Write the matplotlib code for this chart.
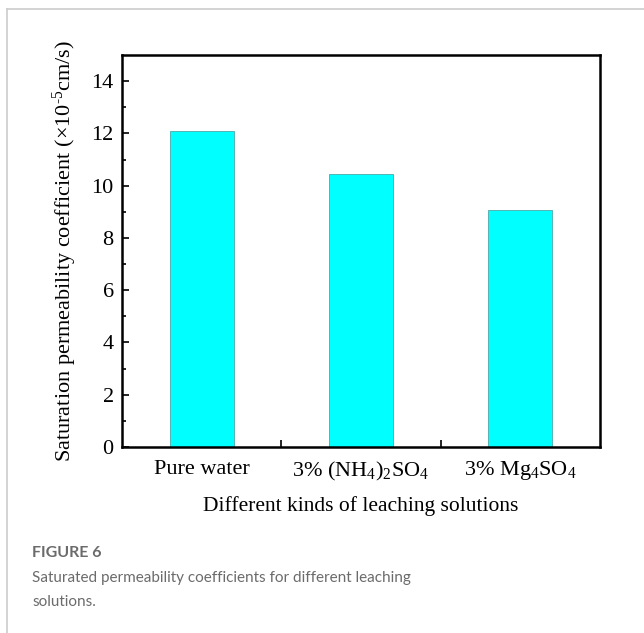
import matplotlib
matplotlib.use("Agg")
import matplotlib.pyplot as plt
from matplotlib.lines import Line2D
from matplotlib.ticker import FixedLocator, NullFormatter

plt.rcParams["font.family"] = ["Liberation Serif", "DejaVu Serif"]
plt.rcParams["mathtext.fontset"] = "custom"
plt.rcParams["mathtext.rm"] = "Liberation Serif"
plt.rcParams["mathtext.it"] = "Liberation Serif:italic"
plt.rcParams["mathtext.default"] = "regular"

# Data
categories = ["Pure water", "3% (NH$_4$)$_2$SO$_4$", "3% Mg$_4$SO$_4$"]
permeability = [12.08, 10.44, 9.05]
y_ticks = [0, 2, 4, 6, 8, 10, 12, 14]

fig = plt.figure(figsize=(6.44, 6.33), dpi=100)
ax = fig.add_axes([122 / 644, 1 - 447 / 633, 478 / 644, 392 / 633])

x = list(range(1, len(categories) + 1))
ax.bar(x, permeability, width=0.4, color="#00FFFF",
       edgecolor="#4fa8a8", linewidth=0.6, zorder=2)

ax.set_xlim(0.5, len(categories) + 0.5)
ax.set_ylim(0, 15)

# y axis: major ticks every 2, minor ticks in between, pointing inward
ax.set_yticks(y_ticks)
ax.yaxis.set_minor_locator(FixedLocator([1, 3, 5, 7, 9, 11, 13]))
ax.tick_params(axis="y", which="major", direction="in", length=5, width=1.2,
               labelsize=16, pad=6, right=False)
ax.tick_params(axis="y", which="minor", direction="in", length=3, width=1.2,
               right=False)

# x axis: separator ticks between categories, labels under bars
ax.set_xticks([1.5, 2.5])
ax.xaxis.set_major_formatter(NullFormatter())
ax.set_xticks(x, minor=True)
ax.set_xticklabels(categories, minor=True)
ax.tick_params(axis="x", which="major", direction="in", length=5, width=1.2,
               top=False)
ax.tick_params(axis="x", which="minor", length=0, labelsize=16, pad=9,
               top=False)

for s in ax.spines.values():
    s.set_linewidth(1.8)

ax.set_xlabel("Different kinds of leaching solutions", fontsize=15.5, labelpad=10)
ax.set_ylabel("Saturation permeability coefficient (\u00d710$^{\u20105}$cm/s)",
              fontsize=16, labelpad=9)

# card border
fig.add_artist(Line2D([7 / 644, 7 / 644], [0, 1 - 9 / 633],
                      transform=fig.transFigure, color="#cccccc", lw=1.2))
fig.add_artist(Line2D([7 / 644, 1], [1 - 9 / 633, 1 - 9 / 633],
                      transform=fig.transFigure, color="#cccccc", lw=1.2))

# caption
cap_font = ["Lato", "DejaVu Sans"]
fig.text(32 / 644, 1 - 553 / 633, "FIGURE 6", family=cap_font,
         fontsize=11.5, fontweight="bold", color="#6b6b6b", va="center")
fig.text(32 / 644, 1 - 578 / 633,
         "Saturated permeability coefficients for different leaching",
         family=cap_font, fontsize=11, color="#6b6b6b", va="center")
fig.text(32 / 644, 1 - 602 / 633, "solutions.",
         family=cap_font, fontsize=11, color="#6b6b6b", va="center")

fig.savefig("out.png", dpi=100)
